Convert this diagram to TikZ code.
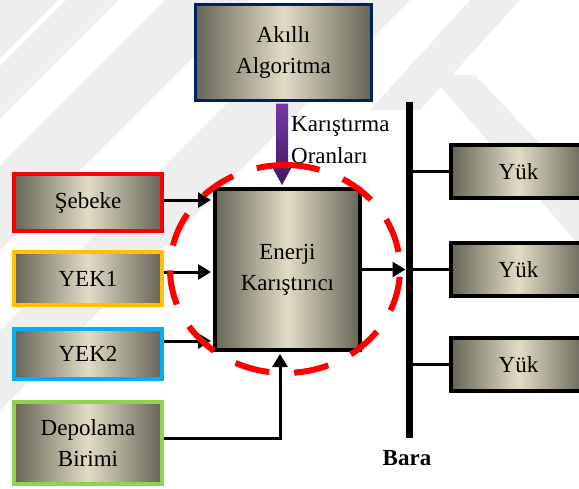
\documentclass[tikz,border=0pt]{standalone}
\usepackage{fontspec}
\setmainfont{Liberation Serif}
\usetikzlibrary{arrows.meta,calc}
\definecolor{boxdark}{RGB}{102,100,86}
\definecolor{boxlight}{RGB}{226,220,198}
\definecolor{algoline}{RGB}{0,32,96}
\definecolor{sebline}{RGB}{255,0,0}
\definecolor{yekone}{RGB}{255,192,0}
\definecolor{yektwo}{RGB}{0,176,240}
\definecolor{depoline}{RGB}{146,208,80}
\definecolor{mixring}{RGB}{255,0,0}
\definecolor{arrtop}{RGB}{120,56,170}
\definecolor{arrbot}{RGB}{60,26,96}
\definecolor{wmark}{RGB}{238,238,238}
\tikzset{
  blk/.style  ={draw=black, line width=4pt, left color=boxdark, right color=boxdark, middle color=boxlight,
                font=\fontsize{23}{31}\selectfont, align=center, inner sep=0pt},
  src/.style  ={blk, line width=3.5pt, minimum width=148pt},
  lbl/.style  ={font=\fontsize{23}{32}\selectfont, inner sep=0pt},
  lblb/.style ={font=\fontsize{23}{32}\selectfont\bfseries, inner sep=0pt},
  wire/.style ={draw=black, line width=3pt},
  arr/.style  ={wire, -{Triangle[length=13pt,width=15pt]}},
  bus/.style  ={draw=black, line width=7pt},
  ring/.style ={draw=mixring, line width=6pt, dash pattern=on 35pt off 25pt},
  wm/.style   ={fill=wmark},
}
\begin{document}
\begin{tikzpicture}[x=1pt,y=-1pt]
  \useasboundingbox (0,0) rectangle (579,488);
  \clip (0,0) rectangle (579,488);
  \fill[white] (0,0) rectangle (579,488);
  \fill[wm] (0,0) -- (58,0) -- (0,58) -- cycle;
  \fill[wm] (66,0) -- (118,0) -- (0,118) -- (0,66) -- cycle;
  \fill[wm] (165,0) -- (250,0) -- (0,250) -- (0,165) -- cycle;
  \fill[wm] (330,0) -- (410,0) -- (0,410) -- (0,330) -- cycle;
  \fill[wm] (470,0) -- (520,0) -- (420,110) -- (370,110) -- cycle;
  \fill[wm] (430,75) -- (475,75) -- (579,185) -- (579,245) -- cycle;
  \node[blk, draw=algoline, line width=3pt, minimum width=176pt, minimum height=96pt] (algo) at (283.5,52.5) {Akıllı\\Algoritma};
  \node[blk, minimum width=145pt, minimum height=161pt] (mixer) at (287.5,269.5) {Enerji\\Karıştırıcı};
  \node[src, draw=sebline, minimum height=57pt] (sebeke) at (88,202.5) {Şebeke};
  \node[src, draw=yekone, minimum height=53pt] (yek1) at (88,278.5) {YEK1};
  \node[src, draw=yektwo, minimum height=50pt] (yek2) at (88,354) {YEK2};
  \node[src, draw=depoline, minimum height=82pt] (depo) at (88,443) {Depolama\\Birimi};
  \node[blk, minimum width=135pt, minimum height=53pt] (yuk1) at (518.5,171.5) {Yük};
  \node[blk, minimum width=135pt, minimum height=53pt] (yuk2) at (518.5,269.5) {Yük};
  \node[blk, minimum width=135pt, minimum height=53pt] (yuk3) at (518.5,364.5) {Yük};
  \coordinate (bustop) at (409,102);
  \coordinate (busbot) at (409,438);
  \node[lblb] (bara) at (407,458) {Bara};
  \node[lbl, align=left, anchor=west] (oran) at (291,140) {Karıştırma\\Oranları};
  \coordinate (pa) at ([xshift=-1.5pt,yshift=-1.5pt]algo.south);
  \coordinate (pb) at ([yshift=2pt]pa |- mixer.north);
  \shade[top color=arrtop, bottom color=arrbot]
    ($(pa)+(-6,0)$) -- ($(pa)+(6,0)$) -- ($(pb)+(6,-22)$) -- ($(pb)+(12,-22)$) -- (pb)
    -- ($(pb)+(-12,-22)$) -- ($(pb)+(-6,-22)$) -- cycle;
  \draw[bus] (bustop) -- (busbot);
  \draw[wire] (yuk1.west) -- (yuk1.west -| bustop);
  \draw[wire] (yuk2.west) -- (yuk2.west -| bustop);
  \draw[wire] (yuk3.west) -- (yuk3.west -| bustop);
  \draw[arr, shorten >=2pt] ([yshift=2.5pt]sebeke.east) -- ([yshift=2.5pt]sebeke.east -| mixer.west);
  \draw[arr, shorten >=2pt] ([yshift=6.5pt]yek1.east) -- ([yshift=6.5pt]yek1.east -| mixer.west);
  \draw[arr, shorten >=2pt] ([yshift=13pt]yek2.east) -- ([yshift=13pt]yek2.east -| mixer.west);
  \draw[arr, shorten >=2pt] ([yshift=5pt]depo.east) -| ([xshift=-7.5pt]mixer.south);
  \draw[arr, shorten >=3.5pt] (mixer.east) -- (mixer.east -| bustop);
  \draw[ring] (285,165) arc[start angle=-90, end angle=270, x radius=115, y radius=104];
\end{tikzpicture}
\end{document}
